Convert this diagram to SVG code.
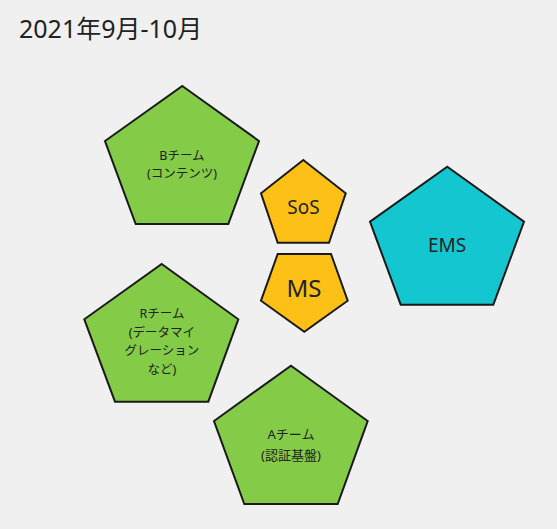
<svg xmlns="http://www.w3.org/2000/svg" width="557" height="529" viewBox="0 0 557 529">
<style>
.s{stroke:#1a1a1a;stroke-width:2;stroke-linejoin:miter}
.g{fill:#84cc47}
.y{fill:#fcc016}
.c{fill:#13c6cf}
text{font-family:"Noto Sans","Noto Sans CJK JP",sans-serif;fill:#222;text-anchor:middle}
.t{font-size:12.5px}
</style>
<rect width="557" height="529" fill="#f0f0f0"/>
<text x="19" y="38" style="font-size:25px;text-anchor:start">2021年9月-10月</text>
<g id="connectors"/>
<g id="bteam">
<polygon class="s g" points="182.3,86 259,141 228.3,224 135.7,224 105,141"/>
<text class="t" x="182" y="160">Bチーム</text>
<text class="t" x="182" y="178">(コンテンツ)</text>
</g>
<g id="sos">
<polygon class="s y" points="303.3,160 345.7,193.3 329,242.7 277.7,242.7 261,193.3"/>
<text x="303.5" y="213.5" style="font-size:19px">SoS</text>
</g>
<g id="ms">
<polygon class="s y" points="277.7,254 331,254 347.7,300.7 304.3,331.7 261,300.7"/>
<text x="304" y="297" style="font-size:24px">MS</text>
</g>
<g id="ems">
<polygon class="s c" points="447.3,166.7 524,221.7 493.3,304.7 400.7,304.7 370,221.7"/>
<text x="447" y="252" style="font-size:19px">EMS</text>
</g>
<g id="rteam">
<polygon class="s g" points="161.7,264 238.3,319.3 208.3,401.7 115,401.7 84.3,319.3"/>
<text class="t" x="162" y="318">Rチーム</text>
<text class="t" x="162" y="337">(データマイ</text>
<text class="t" x="162" y="355">グレーション</text>
<text class="t" x="162" y="374">など)</text>
</g>
<g id="ateam">
<polygon class="s g" points="291,365.7 367.7,421 337.7,504 244.3,504 214,421"/>
<text x="291" y="438.5" style="font-size:13px">Aチーム</text>
<text x="291" y="459.5" style="font-size:13px">(認証基盤)</text>
</g>
</svg>
